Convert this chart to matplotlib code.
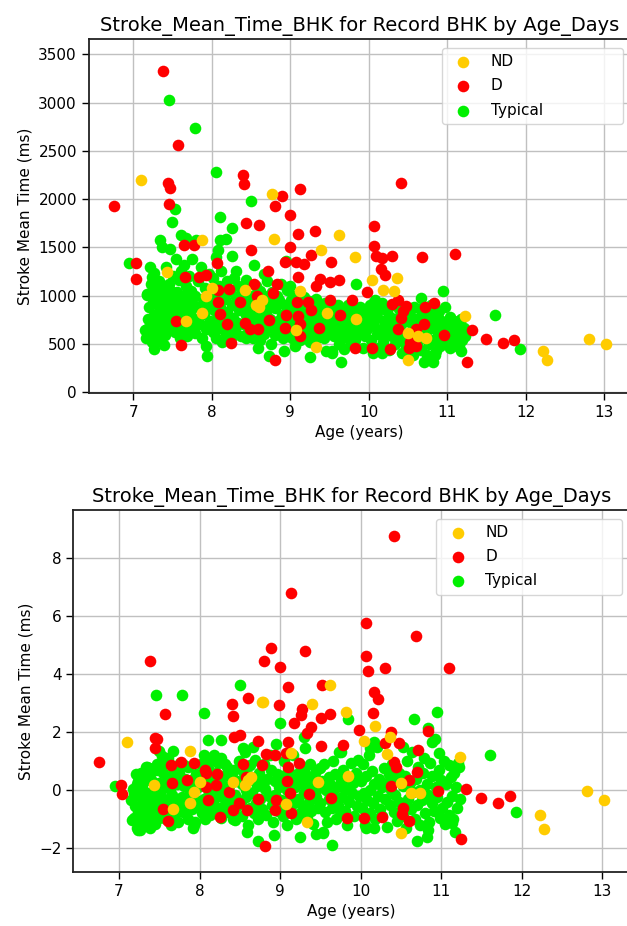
import matplotlib
matplotlib.use("Agg")
import matplotlib.pyplot as plt

# ---------------- data: (age_years, stroke_mean_time_ms, stroke_mean_time_z) ----------------
nd_pts = [
    (7.10, 2197, 1.67), (7.43, 1241, 0.18), (7.67, 737, -0.66), (7.88, 817, -0.45),
    (7.88, 1571, 1.35), (8.00, 1077, 0.29), (7.93, 998, -0.05), (8.42, 1057, 0.29),
    (8.56, 904, 0.18), (8.64, 952, 0.47), (8.77, 2047, 3.05), (8.79, 1581, 3.05),
    (9.13, 1050, 1.29), (9.39, 1467, 2.97), (9.47, 824, 0.29), (9.33, 466, -1.11),
    (9.62, 1630, 3.62), (9.82, 1397, 2.70), (9.84, 754, 0.49), (10.04, 1161, 1.70),
    (10.18, 1057, 2.21), (10.32, 1050, 1.25), (10.36, 1182, 1.84), (10.50, 615, 0.24),
    (10.63, 580, -0.08), (10.73, 563, -0.08), (10.50, 330, -1.48), (11.23, 789, 1.15),
    (12.22, 424, -0.85), (12.27, 337, -1.35), (12.81, 546, -0.02), (13.02, 500, -0.34),
    (9.07, 640, -0.49), (8.60, 880, 0.35),
]

d_pts = [
    (6.75, 1932, 0.96), (7.38, 3330, 4.44), (7.57, 2555, 2.62), (7.44, 2169, 1.78),
    (7.47, 2117, 1.75), (7.45, 1953, 1.44), (7.03, 1342, 0.18), (7.04, 1171, -0.13),
    (7.64, 1519, 0.87), (7.77, 1526, 0.96), (7.66, 1196, 0.24), (7.55, 737, -0.66),
    (7.61, 483, -1.06), (8.40, 2252, 2.95), (8.41, 2151, 2.56), (8.43, 1755, 1.84),
    (8.60, 1727, 3.16), (8.50, 1467, 1.90), (8.80, 1929, 4.46), (8.89, 2030, 4.90),
    (9.00, 1832, 4.25), (9.13, 2106, 6.80), (9.10, 1641, 3.54), (9.31, 1665, 4.79),
    (8.99, 1502, 2.93), (9.27, 1415, 2.78), (9.07, 1349, 1.27), (9.17, 1328, 2.30),
    (8.93, 1345, 1.21), (9.52, 1345, 3.62), (9.10, 1189, 1.67), (9.38, 1171, 2.16),
    (9.33, 1102, 1.96), (9.51, 1137, 2.47), (9.62, 1161, 2.62), (8.72, 1255, 1.70),
    (8.83, 1116, 1.23), (8.78, 1029, 0.87), (8.07, 1335, 0.69), (7.84, 1196, 0.35),
    (7.93, 1217, 0.95), (8.08, 1057, 0.60), (8.22, 1064, 0.56), (8.36, 928, -0.05),
    (8.58, 998, 0.47), (8.54, 1119, 0.90), (9.08, 935, 0.30), (9.23, 928, 0.92),
    (9.26, 855, 2.59), (9.51, 956, 1.52), (9.78, 952, 1.56), (9.98, 1039, 2.07),
    (10.06, 1717, 5.76), (10.06, 1508, 4.63), (10.09, 1411, 4.10), (10.17, 1387, 3.39),
    (10.30, 1411, 4.19), (10.15, 1276, 2.67), (10.21, 1217, 3.13), (10.41, 2169, 8.75),
    (10.68, 1401, 5.30), (11.10, 1432, 4.19), (10.30, 910, 1.61), (10.48, 893, 1.61),
    (10.83, 924, 2.05), (10.71, 876, 1.38), (10.41, 772, 0.98), (10.37, 650, 0.14),
    (10.60, 650, 0.35), (11.31, 647, 0.04), (11.49, 549, -0.26), (11.71, 507, -0.45),
    (11.85, 542, -0.20), (11.25, 309, -1.69), (10.96, 587, -0.02), (10.51, 459, -0.82),
    (10.52, 520, -0.62), (10.27, 441, -0.91), (10.04, 459, -0.97), (9.83, 459, -0.97),
    (9.36, 660, -0.14), (9.13, 580, -0.80), (9.12, 702, -0.08), (9.10, 789, 0.81),
    (8.93, 667, -0.68), (8.73, 744, -0.30), (8.81, 327, -1.92), (8.25, 511, -0.91),
    (8.20, 702, 0.18), (8.11, 806, -0.34), (8.08, 935, 0.12), (8.42, 719, -0.68),
    (8.49, 650, -0.45), (8.59, 650, -0.68), (10.44, 840, 0.81), (10.60, 480, -1.05),
    (9.63, 800, -0.28), (8.95, 800, -0.34), (10.37, 950, 2.01), (10.70, 700, 0.63),
]

typ_pts = [
    # visible outliers / edges
    (7.46, 3024, 3.28), (7.78, 2735, 3.28), (8.06, 2277, 2.64), (8.50, 1978, 3.62),
    (7.53, 1894, 1.18), (7.49, 1762, 1.35), (8.10, 1814, 1.73), (8.26, 1700, 1.73),
    (6.95, 1335, 0.14), (7.34, 1578, 0.80), (7.37, 1502, 0.75), (7.47, 1484, 0.90),
    (7.61, 1623, 1.00), (7.67, 1599, 1.35), (7.80, 1571, 0.85), (8.11, 1571, 1.10),
    (8.18, 1585, 1.20), (8.08, 1467, 0.90), (7.21, 1293, 0.55), (7.24, 1189, 0.30),
    (7.18, 1015, -0.10), (7.18, 650, -1.03), (7.26, 448, -1.37), (7.39, 483, -1.31),
    (7.92, 476, -1.31), (7.94, 372, -1.10), (8.59, 452, -1.43), (8.73, 372, -1.75),
    (8.92, 424, -1.54), (9.25, 368, -1.62), (9.64, 313, -1.89), (10.70, 306, -1.74),
    (10.82, 313, -1.60), (11.93, 448, -0.76), (11.61, 796, 1.21), (9.84, 1119, 2.44),
    (10.95, 1050, 2.70), (10.66, 970, 2.44), (8.26, 1405, 1.10), (8.31, 1258, 0.90),
    (8.54, 1321, 1.44), (8.66, 1224, 1.50), (8.95, 1356, 1.60), (9.00, 1102, 2.32),
    (9.29, 880, 1.84), (9.31, 820, 1.44), (9.75, 760, 1.33), (10.16, 880, 1.67),
    (10.11, 840, 1.44), (10.53, 780, 1.50), (10.84, 860, 2.13), (10.89, 760, 1.67),
    (10.97, 700, 1.27), (11.22, 640, 0.81), (9.53, 420, -1.46), (10.84, 380, -1.37),
    (10.07, 420, -1.31), (10.17, 400, -1.31), (9.45, 420, -1.51), (11.17, 420, -1.43),
    (11.13, 480, -1.14), (8.44, 560, -1.03), (7.16, 560, -1.03), (7.24, 520, -1.37),
    # band 7.15-7.5
    (7.15, 640, -0.35), (7.17, 1010, 0.05), (7.19, 760, -0.95), (7.20, 880, -0.55),
    (7.22, 1120, 0.20), (7.22, 560, -1.30), (7.24, 700, -0.75), (7.25, 950, -0.20),
    (7.26, 800, -0.60), (7.27, 1230, 0.60), (7.28, 620, -1.05), (7.29, 1050, 0.10),
    (7.30, 720, -0.45), (7.31, 900, -0.90), (7.32, 540, -1.20), (7.33, 1150, 0.35),
    (7.34, 820, -0.30), (7.35, 980, 0.80), (7.36, 660, -0.70), (7.37, 1080, -0.10),
    (7.38, 760, -1.00), (7.39, 870, 0.55), (7.40, 590, -0.50), (7.41, 1000, 0.30),
    (7.42, 1300, -0.85), (7.43, 700, -0.25), (7.44, 930, -1.15), (7.45, 810, 0.00),
    (7.46, 1120, 0.70), (7.47, 650, -0.60), (7.48, 1050, -0.40), (7.49, 880, 0.25),
    (7.50, 740, -0.95), (7.51, 1200, 0.15),
    # band 7.5-8.0
    (7.52, 960, -0.20), (7.53, 620, -0.80), (7.54, 1380, 0.60), (7.55, 850, 0.90),
    (7.56, 1040, -0.55), (7.57, 700, 0.10), (7.58, 1160, -1.00), (7.59, 560, 0.40),
    (7.60, 910, -0.35), (7.61, 1250, 1.10), (7.62, 780, -0.70), (7.63, 1000, 0.05),
    (7.64, 640, -1.20), (7.65, 1320, 0.50), (7.66, 870, -0.15), (7.67, 1100, 0.75),
    (7.68, 580, -0.90), (7.69, 950, 0.30), (7.70, 730, -0.45), (7.71, 1200, -0.60),
    (7.72, 820, 0.20), (7.73, 1050, -1.10), (7.74, 680, 0.60), (7.75, 1380, -0.30),
    (7.76, 900, 0.95), (7.78, 610, -0.25), (7.79, 1000, -0.75), (7.80, 760, 0.15),
    (7.82, 1150, 0.40), (7.83, 880, -0.50), (7.85, 700, -1.00), (7.86, 1300, 0.80),
    (7.87, 560, -0.15), (7.89, 960, 0.35), (7.90, 810, -0.65), (7.91, 1080, 0.00),
    (7.93, 650, -1.20), (7.95, 900, 0.55), (7.96, 1220, -0.35), (7.98, 740, 0.10),
    # band 8.0-8.5
    (8.00, 1000, -0.50), (8.01, 620, 0.25), (8.02, 1180, 0.90), (8.03, 850, -0.80),
    (8.04, 720, 0.50), (8.05, 1400, 1.20), (8.06, 560, -0.30), (8.07, 940, -1.00),
    (8.08, 780, 0.10), (8.09, 1100, -0.55), (8.10, 660, 0.75), (8.11, 880, -0.20),
    (8.12, 1250, 0.40), (8.13, 520, -0.85), (8.14, 1020, 0.00), (8.15, 740, 1.05),
    (8.17, 960, -0.40), (8.18, 600, 0.30), (8.19, 1150, -0.70), (8.20, 830, 0.60),
    (8.22, 690, -0.10), (8.23, 1050, 0.95), (8.24, 560, -0.60), (8.26, 900, 0.20),
    (8.27, 770, -0.95), (8.28, 1180, -0.25), (8.30, 640, 0.50), (8.31, 980, 0.05),
    (8.33, 720, -0.50), (8.34, 1100, 0.80), (8.35, 850, -0.75), (8.37, 580, 0.15),
    (8.38, 1010, -0.30), (8.40, 700, 0.45), (8.41, 920, -1.00), (8.43, 800, 0.70),
    (8.44, 1160, -0.15), (8.46, 620, 0.30), (8.47, 890, -0.55), (8.49, 760, 1.00),
    # band 8.5-9.0
    (8.51, 1000, -0.40), (8.52, 560, 0.20), (8.53, 850, -0.90), (8.55, 700, 0.60),
    (8.56, 1100, 1.30), (8.57, 620, -0.25), (8.58, 930, 0.00), (8.60, 780, -1.20),
    (8.61, 1050, 0.50), (8.62, 540, -0.60), (8.63, 880, 0.85), (8.65, 720, -0.10),
    (8.66, 990, 0.35), (8.67, 600, -0.80), (8.69, 820, 1.05), (8.70, 1150, -0.45),
    (8.71, 660, 0.15), (8.73, 920, -1.00), (8.74, 760, 0.60), (8.75, 500, -0.30),
    (8.77, 1040, 0.25), (8.78, 690, -0.65), (8.80, 870, 0.90), (8.81, 590, 0.05),
    (8.83, 1000, -0.85), (8.84, 740, 0.40), (8.86, 950, -0.20), (8.87, 640, 1.20),
    (8.88, 1120, 0.70), (8.90, 800, -0.50), (8.91, 560, -1.10), (8.93, 900, 0.30),
    (8.94, 700, -0.15), (8.96, 1060, 0.55), (8.97, 620, -0.70), (8.98, 850, 0.40),
    (8.99, 760, 0.10),
    # band 9.0-9.5
    (9.01, 950, -0.35), (9.02, 560, 0.50), (9.03, 800, -0.90), (9.04, 680, 0.20),
    (9.05, 1000, 1.00), (9.06, 480, -0.60), (9.08, 860, 0.00), (9.09, 620, -1.20),
    (9.10, 740, 0.70), (9.12, 920, -0.20), (9.13, 540, 0.35), (9.14, 820, -0.75),
    (9.16, 700, 1.20), (9.17, 980, -0.45), (9.18, 600, 0.10), (9.20, 860, -1.00),
    (9.21, 650, 0.55), (9.22, 780, -0.30), (9.24, 940, 0.85), (9.25, 520, -0.80),
    (9.26, 720, 0.25), (9.28, 880, -0.55), (9.29, 600, 0.65), (9.30, 800, -0.10),
    (9.32, 680, 0.45), (9.33, 960, -0.95), (9.34, 560, 0.15), (9.36, 760, -0.40),
    (9.37, 880, 0.90), (9.38, 640, -0.70), (9.40, 720, 0.30), (9.41, 840, -1.15),
    (9.43, 560, 0.60), (9.44, 920, -0.25), (9.46, 700, 0.05), (9.47, 600, -0.60),
    (9.49, 800, 0.75),
    # band 9.5-10.0
    (9.50, 680, -0.45), (9.52, 880, 0.30), (9.53, 400, -1.45), (9.54, 760, 0.90),
    (9.56, 580, -0.75), (9.57, 840, 0.00), (9.58, 640, -1.10), (9.60, 720, 0.45),
    (9.61, 900, -0.30), (9.62, 500, 0.20), (9.64, 780, -0.60), (9.65, 600, 1.00),
    (9.66, 860, -0.15), (9.68, 680, 0.55), (9.69, 450, -1.00), (9.70, 760, 0.10),
    (9.72, 560, -0.50), (9.73, 900, 1.30), (9.74, 660, -0.85), (9.76, 820, 0.35),
    (9.77, 500, -0.25), (9.78, 740, 0.70), (9.80, 620, -0.70), (9.81, 860, 0.05),
    (9.83, 540, -1.20), (9.85, 700, 0.40), (9.86, 800, -0.40), (9.88, 600, 0.95),
    (9.89, 880, -0.10), (9.91, 680, 0.25), (9.92, 460, -0.90), (9.94, 760, 0.60),
    (9.95, 580, -0.55), (9.97, 840, 1.05), (9.98, 650, -0.20),
    # band 10.0-10.5
    (10.00, 720, 0.30), (10.01, 900, -0.60), (10.03, 540, 0.90), (10.04, 820, -0.10),
    (10.05, 400, -1.20), (10.07, 680, 0.50), (10.08, 950, -0.35), (10.10, 600, 1.20),
    (10.11, 780, -0.80), (10.12, 460, 0.00), (10.14, 860, 0.65), (10.15, 640, -0.45),
    (10.17, 920, 0.20), (10.18, 520, -1.00), (10.20, 740, 1.50), (10.21, 600, -0.20),
    (10.23, 840, 0.40), (10.24, 680, -0.65), (10.26, 440, 0.10), (10.27, 780, -0.90),
    (10.29, 580, 0.75), (10.30, 900, -0.30), (10.32, 660, 0.25), (10.33, 500, -1.25),
    (10.35, 760, 0.55), (10.36, 620, -0.50), (10.38, 860, 0.00), (10.39, 540, 0.90),
    (10.41, 700, -0.75), (10.42, 400, -0.15), (10.44, 820, 0.35), (10.45, 600, -1.05),
    (10.47, 740, 0.60), (10.48, 480, -0.40),
    # band 10.5-11.25
    (10.52, 800, 0.15), (10.53, 560, -0.90), (10.55, 700, 0.50), (10.56, 380, -1.30),
    (10.58, 880, 1.00), (10.59, 640, -0.30), (10.61, 500, 0.25), (10.62, 760, -0.65),
    (10.64, 600, 1.30), (10.65, 860, -0.05), (10.67, 440, -1.00), (10.68, 700, 0.40),
    (10.70, 560, -0.50), (10.71, 820, 0.80), (10.73, 620, -1.20), (10.74, 380, 0.00),
    (10.76, 740, -0.35), (10.77, 500, 0.60), (10.79, 900, 1.10), (10.80, 660, -0.80),
    (10.82, 540, 0.20), (10.83, 780, -0.15), (10.85, 420, -1.10), (10.86, 700, 0.95),
    (10.88, 600, -0.45), (10.89, 840, 0.50), (10.91, 480, -0.70), (10.92, 740, 1.75),
    (10.94, 560, 0.10), (10.95, 660, -0.25), (10.97, 880, 0.70), (10.98, 500, -0.95),
    (11.00, 720, 0.35), (11.01, 600, -0.60), (11.03, 780, 1.00), (11.04, 460, -1.15),
    (11.06, 680, 0.20), (11.07, 560, -0.40), (11.09, 740, 0.85), (11.10, 520, -0.85),
    (11.12, 640, 0.45), (11.13, 700, -0.20), (11.15, 480, -1.00), (11.16, 600, 0.60),
    (11.18, 760, 0.10), (11.19, 540, -0.60), (11.21, 660, 0.95), (11.23, 580, -0.30),
]

groups = ["ND", "D", "Typical"]
group_colors = {"ND": "#ffcc00", "D": "#ff0000", "Typical": "#00f000"}
group_points = {"ND": nd_pts, "D": d_pts, "Typical": typ_pts}

title = "Stroke_Mean_Time_BHK for Record BHK by Age_Days"
xlabel = "Age (years)"
ylabel = "Stroke Mean Time (ms)"
xticks = [7, 8, 9, 10, 11, 12, 13]

W, H = 627, 926
fig = plt.figure(figsize=(W / 100, H / 100), dpi=100)

def px_axes(l, t, r, b):
    return fig.add_axes([l / W, 1 - b / H, (r - l) / W, (b - t) / H])

ax1 = px_axes(88.7, 39.3, 630.2, 392.7)
ax2 = px_axes(73.3, 510.0, 629.0, 871.7)

panels = [
    (ax1, 1, (-7, 3655), [0, 500, 1000, 1500, 2000, 2500, 3000, 3500], (0.652, 0.0, 0.334, 0.975)),
    (ax2, 2, (-2.805, 9.64), [-2, 0, 2, 4, 6, 8], (0.653, 0.0, 0.335, 0.975)),
]

for ax, col, ylim, yticks, legbox in panels:
    ax.set_axisbelow(True)
    ax.grid(True, color="#c0c0c0", linewidth=1.0)
    handles = {}
    for g in ["Typical", "D", "ND"]:
        pts = group_points[g]
        xs = [p[0] for p in pts]
        ys = [p[col] for p in pts]
        handles[g] = ax.scatter(xs, ys, s=70, c=group_colors[g], label=g,
                                linewidths=0, zorder=2)
    ax.set_xlim(6.432, 13.33)
    ax.set_ylim(*ylim)
    ax.set_xticks(xticks)
    ax.set_yticks(yticks)
    ax.tick_params(labelsize=11, width=1.0, length=5)
    for sp in ax.spines.values():
        sp.set_linewidth(1.3)
        sp.set_color("#222222")
    ax.set_title(title, fontsize=14)
    ax.set_xlabel(xlabel, fontsize=11)
    ax.set_ylabel(ylabel, fontsize=11)
    leg = ax.legend([handles[g] for g in groups], groups, loc="upper left",
                    mode="expand", bbox_to_anchor=legbox, borderaxespad=0,
                    fontsize=11, framealpha=0.8, labelspacing=0.6)
    leg.get_frame().set_edgecolor("#cccccc")

fig.savefig("out.png", dpi=100)
